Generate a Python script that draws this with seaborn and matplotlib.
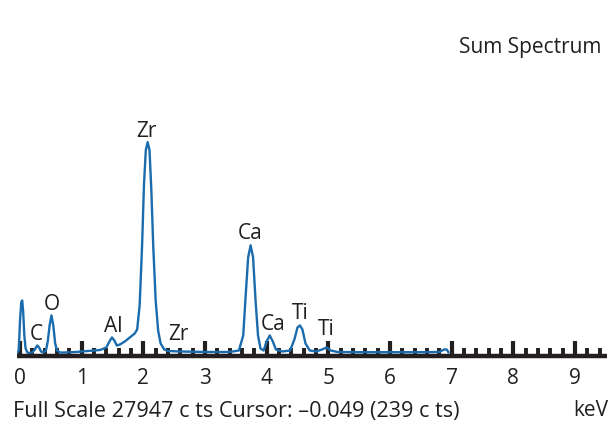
import matplotlib
matplotlib.use("Agg")
import matplotlib.pyplot as plt
from matplotlib.ticker import MultipleLocator, FixedLocator
import seaborn as sns
import pandas as pd

# ---- data ----
energy_kev = [-0.049, -0.02, 0.00, 0.02, 0.035, 0.05, 0.07, 0.09, 0.12, 0.16,
              0.20, 0.24, 0.28, 0.31, 0.34, 0.38, 0.42, 0.45, 0.48, 0.51,
              0.54, 0.57, 0.60, 0.65, 0.75, 0.90, 1.10, 1.30, 1.40, 1.45,
              1.49, 1.53, 1.57, 1.62, 1.70, 1.80, 1.86, 1.90, 1.94, 1.98,
              2.01, 2.04, 2.07, 2.10, 2.13, 2.16, 2.20, 2.24, 2.28, 2.34,
              2.40, 2.60, 3.00, 3.40, 3.55, 3.62, 3.66, 3.70, 3.74, 3.78,
              3.82, 3.86, 3.90, 3.95, 4.00, 4.05, 4.10, 4.15, 4.25, 4.38,
              4.45, 4.50, 4.54, 4.58, 4.63, 4.70, 4.80, 4.90, 4.97, 5.04,
              5.15, 5.50, 6.00, 6.50, 6.80, 6.88, 6.92, 6.95]
counts = [240, 510, 3560, 5385, 5590, 4570, 2030, 710, 305, 254,
          305, 610, 1016, 813, 406, 305, 508, 1422, 3048, 4064,
          3048, 1219, 508, 305, 305, 356, 457, 559, 813, 1422,
          1829, 1524, 1016, 1118, 1422, 1930, 2235, 2642, 5080, 11176,
          17272, 20828, 21641, 20828, 16764, 11176, 5588, 2540, 1219, 610,
          457, 406, 356, 356, 508, 2032, 6096, 9957, 11176, 9957,
          5588, 2032, 711, 508, 1422, 2032, 1422, 610, 406, 508,
          1626, 2845, 3048, 2642, 1219, 508, 406, 610, 813, 508,
          356, 335, 335, 335, 356, 610, 610, 305]

peak_labels = ["C", "O", "Al", "Zr", "Zr", "Ca", "Ca", "Ti", "Ti"]
peak_label_kev = [0.26, 0.52, 1.52, 2.05, 2.57, 3.74, 4.10, 4.54, 4.97]
peak_label_counts = [2150, 5200, 2950, 22700, 2150, 12400, 3100, 4300, 2600]

tick_values = [0, 1, 2, 3, 4, 5, 6, 7, 8, 9]
tick_labels = ["0", "1", "2", "3", "4", "5", "6", "7", "8", "9"]

full_scale = 27947
title_text = "Sum Spectrum"
footer_text = "Full Scale 27947 c ts Cursor: \u20130.049 (239 c ts)"
unit_text = "keV"

# ---- styling ----
sns.set_theme(style="white")
plt.rcParams["font.family"] = ["Open Sans", "DejaVu Sans"]
ink = "#231f20"
blue = "#1a6cae"
fs = 15

df = pd.DataFrame({"keV": energy_kev, "counts": counts})

fig = plt.figure(figsize=(6.13, 4.29), dpi=100)
ax = fig.add_axes([17 / 613, 1 - 355.5 / 429, (607 - 17) / 613, (355.5 - 80) / 429])

sns.lineplot(data=df, x="keV", y="counts", ax=ax, color=blue, linewidth=1.7)

ax.set_xlim(-0.049, 9.52)
ax.set_ylim(0, full_scale)

for s in ["left", "top", "right"]:
    ax.spines[s].set_visible(False)
ax.spines["bottom"].set_linewidth(3.2)
ax.spines["bottom"].set_color(ink)
ax.spines["bottom"].set_capstyle("butt")

ax.xaxis.set_major_locator(FixedLocator(tick_values))
ax.set_xticklabels(tick_labels)
ax.xaxis.set_minor_locator(MultipleLocator(0.2))
ax.tick_params(axis="x", which="both", bottom=True, top=False)
ax.tick_params(axis="x", which="major", direction="in", length=10.5, width=3.0,
               color=ink, labelsize=fs, labelcolor=ink, pad=9)
ax.tick_params(axis="x", which="minor", direction="in", length=6, width=2.8,
               color=ink)
ax.set_yticks([])
ax.set_xlabel("")
ax.set_ylabel("")

for lab, xk, yc in zip(peak_labels, peak_label_kev, peak_label_counts):
    ax.text(xk, yc, lab, ha="center", va="center", fontsize=fs, color=ink)

fig.text(601 / 613, 1 - 47 / 429, title_text, ha="right", va="center",
         fontsize=fs, color=ink)
fig.text(13 / 613, 1 - 411 / 429, footer_text, ha="left", va="center",
         fontsize=15.6, color=ink)
fig.text(608 / 613, 1 - 411 / 429, unit_text, ha="right", va="center",
         fontsize=fs, color=ink)

fig.savefig("out.png", dpi=100)
